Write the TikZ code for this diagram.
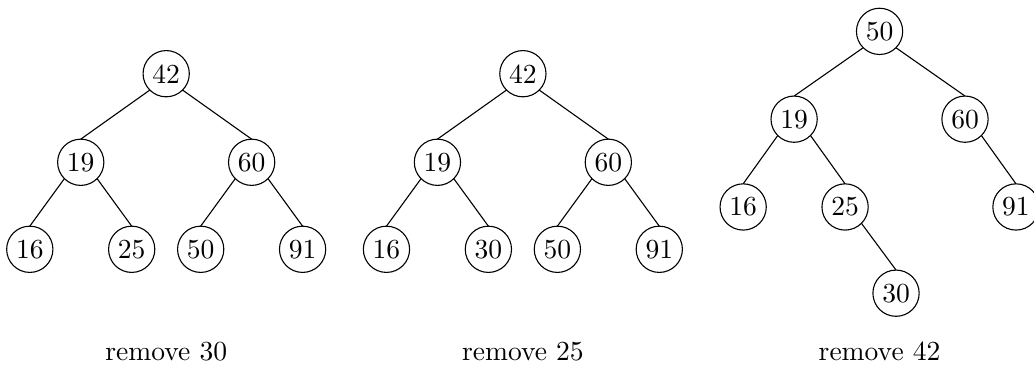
\documentclass[tikz,border=0pt]{standalone}
\usepackage{tkz-graph}

\begin{document}
\begin{tikzpicture}
    \useasboundingbox (0,0) rectangle (13.19,-4.67);
    \tikzset{VertexStyle/.style={draw, circle, fill=white, inner sep=0pt, minimum size=0.59cm}}
    \tikzset{EdgeStyle/.style={draw=black, thin}}

    % remove 30
    \Vertex[x=2.12, y=-0.94, L=42] {A42}
    \Vertex[x=1.03, y=-2.07, L=19] {A19}
    \Vertex[x=3.21, y=-2.07, L=60] {A60}
    \Vertex[x=0.38, y=-3.18, L=16] {A16}
    \Vertex[x=1.68, y=-3.18, L=25] {A25}
    \Vertex[x=2.56, y=-3.18, L=50] {A50}
    \Vertex[x=3.86, y=-3.18, L=91] {A91}
    \Edge(A42.south west)(A19.north)
    \Edge(A42.south east)(A60.north)
    \Edge(A19.south west)(A16.north)
    \Edge(A19.south east)(A25.north)
    \Edge(A60.south west)(A50.north)
    \Edge(A60.south east)(A91.north)

    % remove 25
    \Vertex[x=6.67, y=-0.94, L=42] {B42}
    \Vertex[x=5.58, y=-2.07, L=19] {B19}
    \Vertex[x=7.76, y=-2.07, L=60] {B60}
    \Vertex[x=4.93, y=-3.18, L=16] {B16}
    \Vertex[x=6.23, y=-3.18, L=30] {B30}
    \Vertex[x=7.11, y=-3.18, L=50] {B50}
    \Vertex[x=8.41, y=-3.18, L=91] {B91}
    \Edge(B42.south west)(B19.north)
    \Edge(B42.south east)(B60.north)
    \Edge(B19.south west)(B16.north)
    \Edge(B19.south east)(B30.north)
    \Edge(B60.south west)(B50.north)
    \Edge(B60.south east)(B91.north)

    % remove 42
    \Vertex[x=11.22, y=-0.40, L=50] {C50}
    \Vertex[x=10.13, y=-1.52, L=19] {C19}
    \Vertex[x=12.31, y=-1.52, L=60] {C60}
    \Vertex[x=9.48,  y=-2.64, L=16] {C16}
    \Vertex[x=10.78, y=-2.64, L=25] {C25}
    \Vertex[x=12.96, y=-2.64, L=91] {C91}
    \Vertex[x=11.43, y=-3.74, L=30] {C30}
    \Edge(C50.south west)(C19.north)
    \Edge(C50.south east)(C60.north)
    \Edge(C19.south west)(C16.north)
    \Edge(C19.south east)(C25.north)
    \Edge(C60.south east)(C91.north)
    \Edge(C25.south east)(C30.north)

    \node (capA) at (2.12, -4.48)  {remove 30};
    \node (capB) at (6.67, -4.48)  {remove 25};
    \node (capC) at (11.22, -4.48) {remove 42};
\end{tikzpicture}
\end{document}
